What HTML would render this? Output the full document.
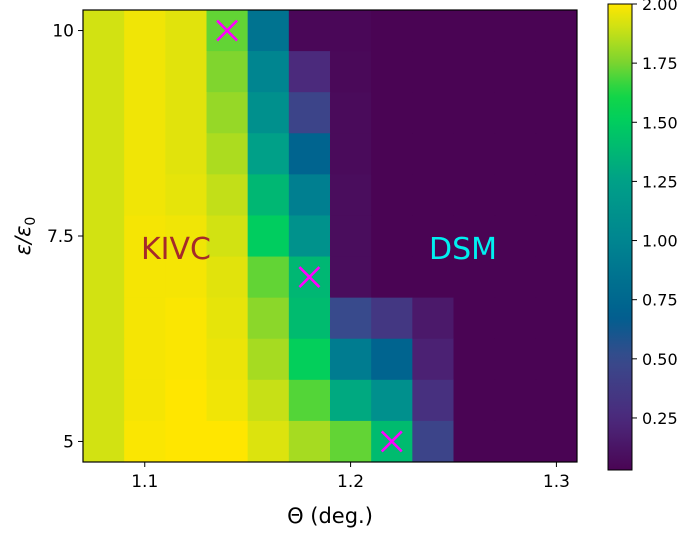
<!DOCTYPE html>
<html><head><meta charset="utf-8"><style>
body{margin:0;background:#fff;font-family:"Liberation Sans","DejaVu Sans",sans-serif}
svg text{font-family:"DejaVu Sans","Liberation Sans",sans-serif}
</style></head><body>
<svg id="chart" width="685" height="530" viewBox="0 0 685 530" xmlns="http://www.w3.org/2000/svg">
<defs>
<linearGradient id="cmap" x1="0" y1="1" x2="0" y2="0"></linearGradient>
</defs>
<g id="cells"></g>
<g id="marks"></g>
<rect x="83" y="10" width="494" height="452" fill="none" stroke="#000" stroke-width="1.2"/>
<g id="axes"></g>
<text x="141" y="259" font-size="30" fill="#a52a2a">KIVC</text>
<text x="429" y="259" font-size="30" fill="#00f0f0">DSM</text>
<text x="330" y="523" font-size="21" text-anchor="middle">Θ (deg.)</text>
<text transform="translate(30,236) rotate(-90)" font-size="21" text-anchor="middle" font-style="italic">ε/ε<tspan font-size="14" dy="5" font-style="normal">0</tspan></text>
<g id="cbar"></g>
</svg>
<script>
const thetas=[1.08,1.10,1.12,1.14,1.16,1.18,1.20,1.22,1.24,1.26,1.28,1.30];
const eps=[10,9.5,9,8.5,8,7.5,7,6.5,6,5.5,5];
// rows top (eps=10) to bottom (eps=5), columns theta 1.08..1.30
const row10 =[1.91,1.97,1.94,1.72,0.85,0.05,0.05,0.03,0.03,0.03,0.03,0.03];
const row9_5=[1.91,1.97,1.94,1.76,1.00,0.25,0.06,0.03,0.03,0.03,0.03,0.03];
const row9  =[1.91,1.97,1.94,1.80,1.10,0.45,0.07,0.03,0.03,0.03,0.03,0.03];
const row8_5=[1.91,1.97,1.94,1.84,1.25,0.72,0.07,0.03,0.03,0.03,0.03,0.03];
const row8  =[1.91,1.97,1.95,1.88,1.38,0.95,0.08,0.03,0.03,0.03,0.03,0.03];
const row7_5=[1.91,1.98,1.97,1.91,1.50,1.12,0.08,0.03,0.03,0.03,0.03,0.03];
const row7  =[1.91,1.98,1.98,1.94,1.72,1.38,0.08,0.03,0.03,0.03,0.03,0.03];
const row6_5=[1.91,1.98,1.99,1.95,1.78,1.40,0.50,0.35,0.15,0.03,0.03,0.03];
const row6  =[1.91,1.98,1.99,1.96,1.83,1.52,0.92,0.72,0.20,0.03,0.03,0.03];
const row5_5=[1.91,1.98,2.00,1.97,1.89,1.70,1.30,1.10,0.30,0.03,0.03,0.03];
const row5  =[1.91,1.99,2.00,2.00,1.93,1.83,1.72,1.40,0.45,0.03,0.03,0.03];
const values=[row10,row9_5,row9,row8_5,row8,row7_5,row7,row6_5,row6,row5_5,row5];
const markerTheta=[1.14,1.18,1.22];
const markerEps=[10,7,5];
const xTicks=[1.1,1.2,1.3];
const xTickLabels=["1.1","1.2","1.3"];
const yTicks=[5,7.5,10];
const yTickLabels=["5","7.5","10"];
const cbTicks=[0.25,0.5,0.75,1.0,1.25,1.5,1.75,2.0];
const cbTickLabels=["0.25","0.50","0.75","1.00","1.25","1.50","1.75","2.00"];

const NS="http://www.w3.org/2000/svg";
const X0=83,X1=577,Y0=10,Y1=462;
const xmin=1.07,xmax=1.31,ymin=4.75,ymax=10.25;
const vmin=0.03,vmax=2.0;
function xs(v){return X0+(v-xmin)/(xmax-xmin)*(X1-X0);}
function ys(v){return Y1-(v-ymin)/(ymax-ymin)*(Y1-Y0);}
const CB_T=4,CB_B=470;
function cs(v){return CB_B-(v-vmin)/(vmax-vmin)*(CB_B-CB_T);}
const stops=[[0.03,[74,4,84]],[0.25,[75,42,124]],[0.5,[56,74,140]],[0.68,[0,95,143]],[1.0,[0,133,144]],[1.25,[0,160,136]],[1.5,[0,205,95]],[1.62,[20,214,70]],[1.75,[122,212,48]],[1.9,[205,225,20]],[2.0,[255,230,0]]];
function color(v){
  v=Math.max(vmin,Math.min(vmax,v));
  for(let i=1;i<stops.length;i++){
    if(v<=stops[i][0]){
      const a=stops[i-1],b=stops[i],t=(v-a[0])/(b[0]-a[0]);
      const c=a[1].map((x,k)=>Math.round(x+(b[1][k]-x)*t));
      return `rgb(${c[0]},${c[1]},${c[2]})`;
    }
  }
  return "rgb(255,230,0)";
}
function mk(tag,attrs,parent){const e=document.createElementNS(NS,tag);for(const k in attrs)e.setAttribute(k,attrs[k]);parent.appendChild(e);return e;}
const cells=document.getElementById('cells');
const dx=0.02,dy=0.5;
values.forEach((row,r)=>row.forEach((v,c)=>{
  const xa=xs(thetas[c]-dx/2),xb=xs(thetas[c]+dx/2),ya=ys(eps[r]+dy/2),yb=ys(eps[r]-dy/2);
  const el=mk('rect',{x:xa,y:ya,width:xb-xa+0.5,height:yb-ya+0.5,fill:color(v)},cells);
  
  
}));
const marks=document.getElementById('marks');
markerTheta.forEach((t,i)=>{
  const cx=xs(t),cy=ys(markerEps[i]),s=10;
  const g=mk('g',{stroke:'#ff00ff','stroke-width':2.6},marks);
  
  
  mk('line',{x1:cx-s,y1:cy-s,x2:cx+s,y2:cy+s},g);
  mk('line',{x1:cx-s,y1:cy+s,x2:cx+s,y2:cy-s},g);
});
const axes=document.getElementById('axes');
xTicks.forEach((t,i)=>{
  const x=xs(t);
  const l=mk('line',{x1:x,y1:Y1,x2:x,y2:Y1+5,stroke:'#000','stroke-width':1},axes);
  
  
  const tx=mk('text',{x:x,y:Y1+25,'font-size':17,'text-anchor':'middle'},axes);
  tx.textContent=xTickLabels[i];
  
  
});
yTicks.forEach((t,i)=>{
  const y=ys(t);
  const l=mk('line',{x1:X0-5,y1:y,x2:X0,y2:y,stroke:'#000','stroke-width':1},axes);
  
  
  const tx=mk('text',{x:X0-9,y:y+6,'font-size':17,'text-anchor':'end'},axes);
  tx.textContent=yTickLabels[i];
  
  
});
const grad=document.getElementById('cmap');
for(let i=0;i<=40;i++){const v=vmin+(vmax-vmin)*i/40;mk('stop',{offset:(i/40),'stop-color':color(v)},grad);}
const cb=document.getElementById('cbar');
const cbr=mk('rect',{x:608,y:CB_T,width:24,height:CB_B-CB_T,fill:'url(#cmap)',stroke:'#000','stroke-width':1},cb);


cbTicks.forEach((t,i)=>{
  const y=cs(t);
  const l=mk('line',{x1:632,y1:y,x2:637,y2:y,stroke:'#000','stroke-width':1},cb);
  
  
  const tx=mk('text',{x:642,y:y+6,'font-size':16},cb);
  tx.textContent=cbTickLabels[i];
  
  
});
</script>
</body></html>
